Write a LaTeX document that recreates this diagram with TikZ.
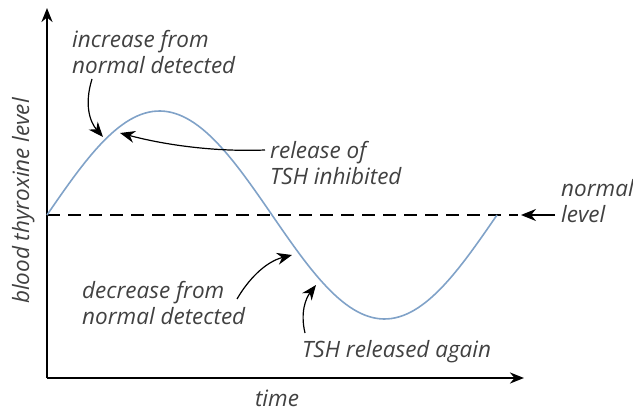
\documentclass[tikz,border=0pt]{standalone}
\usepackage{fontspec}
\setmainfont{Open Sans}
\usetikzlibrary{arrows.meta, positioning}
\definecolor{curveblue}{RGB}{128,162,200}
\definecolor{labelgray}{RGB}{65,65,65}

\begin{document}
\begin{tikzpicture}[x=1pt, y=-1pt,
    lbl/.style={font=\fontsize{22.5}{26}\selectfont\itshape, text=labelgray, align=left, inner sep=0pt},
    axis/.style={line width=2.5pt, -{Stealth[length=14pt, width=11pt]}},
    pointer/.style={line width=1.2pt, -{Stealth[length=15pt, width=12pt]}}]
  \useasboundingbox (0,0) rectangle (633,412);

  % axes
  \coordinate (origin) at (47,378);
  \coordinate (ytop) at (47,8);
  \coordinate (xend) at (524,378);
  \draw[axis] (origin) -- (ytop);
  \draw[axis] (origin) -- (xend);

  % normal level
  \coordinate (nstart) at (47,215);
  \coordinate (nend) at (518,215);
  \draw[line width=2.5pt, dash pattern=on 13pt off 8pt] (nstart) -- (nend);

  % thyroxine level
  \draw[curveblue, line width=1.6pt] plot[domain=0:360, samples=120]
    ({47+\x*1.25}, {215-104*sin(\x)});

  % labels
  \node[lbl, anchor=north west] (incr) at (72,30) {increase from\\normal detected};
  \node[lbl, anchor=north west] (inhib) at (270,141) {release of\\TSH inhibited};
  \node[lbl, anchor=north west] (norm) at (561,179) {normal\\level};
  \node[lbl, anchor=north west] (decr) at (82,281) {decrease from\\normal detected};
  \node[lbl, anchor=base west] (again) at (302,357) {TSH released again};
  \node[lbl, anchor=base] (time) at (277,406) {time};
  \node[lbl, anchor=base, rotate=90] (ylab) at (29,201) {blood thyroxine level};

  % pointers
  \coordinate (p1) at (103,137);
  \coordinate (p2) at (120,133);
  \coordinate (p3) at (521,215);
  \coordinate (p4) at (292,255);
  \coordinate (p5) at (316,285);
  \draw[pointer] (92,79) .. controls (84,105) and (90,122) .. (p1);
  \draw[pointer] (inhib.west |- 0,150) ++(-5,0) .. controls (215,152) and (165,145) .. (p2);
  \draw[pointer] (norm.west |- p3) ++(-6,0) -- (p3);
  \draw[pointer] (237,299) .. controls (248,280) and (265,262) .. (p4);
  \draw[pointer] (305,333) .. controls (300,312) and (306,298) .. (p5);
\end{tikzpicture}
\end{document}
